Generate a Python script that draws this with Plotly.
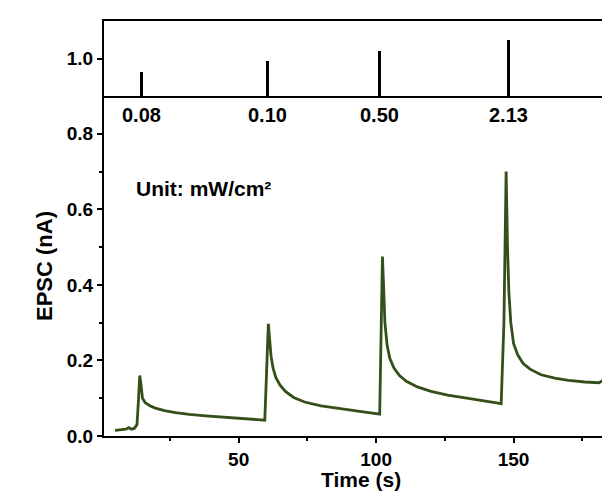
import plotly.graph_objects as go

# EPSC trace (time in s, current in nA)
time_s = [5, 7, 9, 10, 11, 12, 13,
          13.5, 14.0, 14.4, 15, 16, 18, 20, 23, 27, 32, 38, 45, 52, 59.5,
          60.3, 60.8, 61.2, 61.8, 62.5, 63.5, 65, 67, 70, 74, 80, 87, 94, 101.3,
          101.8, 102.3, 102.7, 103.2, 104, 105, 106.5, 108.5, 111, 115, 120, 126, 133, 140, 145.5,
          146.5, 147.3, 147.8, 148.3, 149, 150, 151.5, 153.5, 156, 160, 165, 170, 176, 181, 183, 184, 188]
epsc_nA = [0.015, 0.016, 0.018, 0.022, 0.018, 0.020, 0.030,
           0.090, 0.160, 0.140, 0.100, 0.088, 0.079, 0.073, 0.067, 0.062, 0.057, 0.053, 0.049, 0.046, 0.042,
           0.200, 0.297, 0.260, 0.210, 0.180, 0.155, 0.135, 0.118, 0.102, 0.090, 0.080, 0.072, 0.065, 0.058,
           0.300, 0.475, 0.400, 0.300, 0.240, 0.205, 0.180, 0.160, 0.145, 0.130, 0.118, 0.108, 0.100, 0.093, 0.086,
           0.300, 0.700, 0.500, 0.380, 0.300, 0.245, 0.215, 0.192, 0.177, 0.162, 0.153, 0.147, 0.143, 0.141, 0.148, 0.141, 0.138]

# Light pulses (top panel)
pulse_time = [14.8, 60.6, 101.3, 148.3]
pulse_height = [0.964, 0.993, 1.020, 1.049]
pulse_labels = ["0.08", "0.10", "0.50", "2.13"]

BASE = 0.9
FONT = "Liberation Sans, Arial, sans-serif"

fig = go.Figure()
fig.add_trace(go.Scatter(x=time_s, y=epsc_nA, mode="lines",
                         line=dict(color="#33501a", width=2.8),
                         xaxis="x", yaxis="y", showlegend=False))
fig.add_trace(go.Bar(x=pulse_time, y=[h - BASE for h in pulse_height], base=BASE,
                     width=1.1, marker=dict(color="black", line=dict(width=0)),
                     xaxis="x2", yaxis="y2", showlegend=False))

for t, lab in zip(pulse_time, pulse_labels):
    fig.add_annotation(x=t, y=BASE, xref="x2", yref="y2", text=f"<b>{lab}</b>",
                       showarrow=False, yanchor="top", yshift=-6,
                       font=dict(family=FONT, size=20, color="black"))

fig.add_annotation(x=12.0, y=0.655, xref="x", yref="y", text="<b>Unit: mW/cm²</b>",
                   showarrow=False, xanchor="left", yanchor="middle",
                   font=dict(family=FONT, size=21, color="black"))

# x-axis title placed as paper annotation so it stays inside the page
fig.add_annotation(x=0.5, y=-0.105, xref="paper", yref="paper", text="<b>Time (s)</b>",
                   showarrow=False, xanchor="center", yanchor="middle",
                   font=dict(family=FONT, size=21, color="black"))

split = (428 - 88) / 415
ax_common = dict(showline=True, linecolor="black", linewidth=2, ticks="outside",
                 tickwidth=2, ticklen=5, tickcolor="black", showgrid=False, zeroline=False,
                 tickfont=dict(family=FONT, size=19, color="black"))

fig.update_layout(
    width=610, height=492,
    margin=dict(l=96, r=0, t=13, b=64),
    paper_bgcolor="white", plot_bgcolor="white",
    bargap=0,
    xaxis=dict(**ax_common, range=[1, 188], domain=[0, 1], anchor="y",
               tickvals=[50, 100, 150], ticktext=["<b>50</b>", "<b>100</b>", "<b>150</b>"],
               ticklabelstandoff=0,
               minor=dict(tickvals=[25, 75, 125, 175], ticks="outside", ticklen=3,
                          tickwidth=2, tickcolor="black")),
    yaxis=dict(**ax_common, range=[0, 0.9], domain=[0, split], anchor="x",
               tickvals=[0, 0.2, 0.4, 0.6, 0.8],
               ticktext=["<b>0.0</b>", "<b>0.2</b>", "<b>0.4</b>", "<b>0.6</b>", "<b>0.8</b>"],
               minor=dict(tickvals=[0.1, 0.3, 0.5, 0.7], ticks="outside", ticklen=3,
                          tickwidth=2, tickcolor="black"),
               title=dict(text="<b>EPSC (nA)</b>", font=dict(family=FONT, size=22, color="black"),
                          standoff=8)),
    xaxis2=dict(showline=True, linecolor="black", linewidth=2, mirror=True, showgrid=False,
                zeroline=False, showticklabels=False, ticks="", range=[1, 188],
                anchor="y2", matches="x", domain=[0, 1]),
    yaxis2=dict(**ax_common, range=[BASE, 1.1], domain=[split, 1], anchor="x2",
                tickvals=[1.0], ticktext=["<b>1.0</b>"]),
)

fig.write_html("out.html")
